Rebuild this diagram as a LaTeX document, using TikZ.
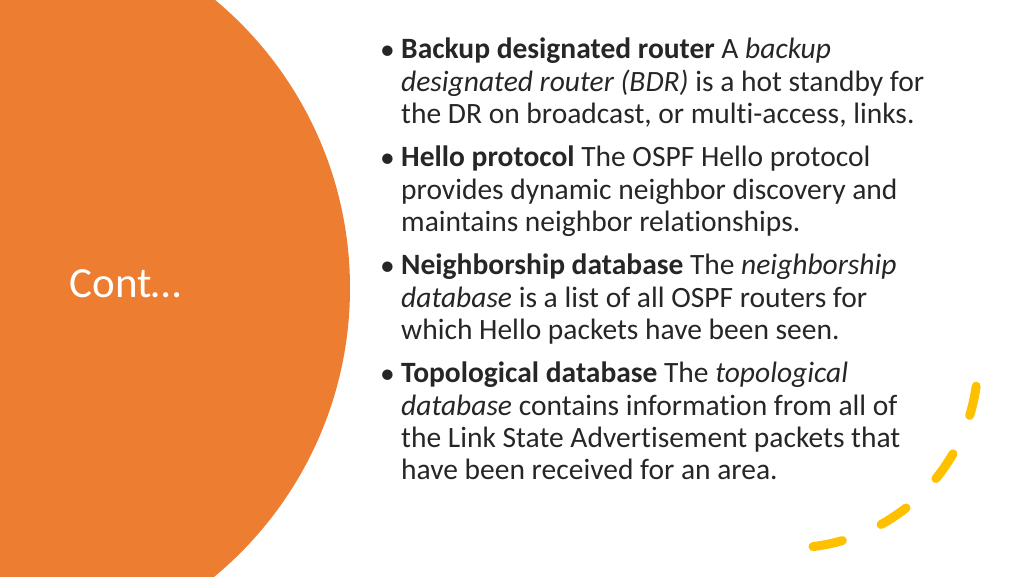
\documentclass[tikz,border=0pt]{standalone}
\usepackage{fontspec}
\setmainfont{Carlito}[Ligatures={NoCommon}]
\definecolor{orng}{HTML}{ED7D31}
\definecolor{gld}{HTML}{FFC000}
\definecolor{txt}{HTML}{262626}
\begin{document}
\begin{tikzpicture}[x=1pt,y=1pt,
  para/.style={anchor=north west,align=left,inner sep=0,font=\fontsize{29.5}{32.3}\selectfont,text=txt},
  bul/.style={anchor=base east,inner sep=0,font=\fontsize{29.5}{32}\selectfont,text=txt}]
\useasboundingbox (0,0) rectangle (1024,-576);
\begin{scope}
\clip (0,0) rectangle (1024,-576);
\fill[orng] (-25,-288) circle (375);
\end{scope}
\node[text=white,anchor=west,font=\fontsize{43}{48}\selectfont] (t) at (66,-284) {Cont…};
\node[para] (p1) at (401,-38) {\textbf{Backup designated router} A \textit{backup}\\ \textit{designated router (BDR)} is a hot standby for\\ the DR on broadcast, or multi-access, links.};
\node[para] (p2) at (401,-146) {\textbf{Hello protocol} The OSPF Hello protocol\\ provides dynamic neighbor discovery and\\ maintains neighbor relationships.};
\node[para] (p3) at (401,-254) {\textbf{Neighborship database} The \textit{neighborship}\\ \textit{database} is a list of all OSPF routers for\\ which Hello packets have been seen.};
\node[para] (p4) at (401,-362) {\textbf{Topological database} The \textit{topological}\\ \textit{database} contains information from all of\\ the Link State Advertisement packets that\\ have been received for an area.};
\foreach \p in {p1,p2,p3,p4}{\node[bul] at ([xshift=-6pt,yshift=-21pt]\p.north west) {•};}
\draw[gld,line width=9,line cap=round,dash pattern=on 30 off 42]
  (790,-360) ++(-8:188) arc (-8:-88:188);
\end{tikzpicture}
\end{document}
